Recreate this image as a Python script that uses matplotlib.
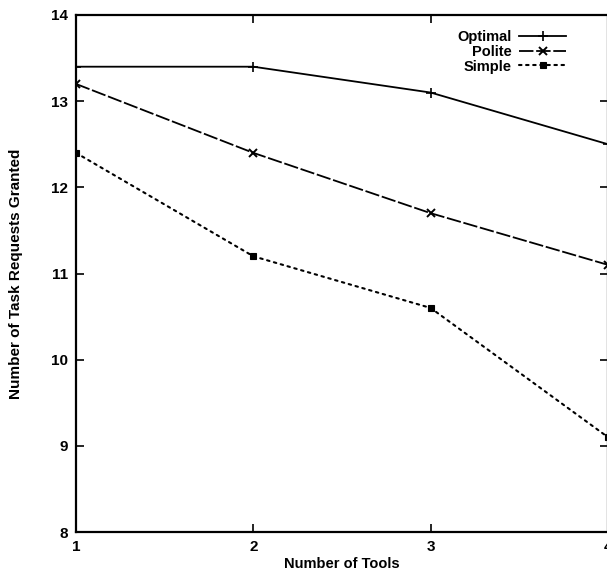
import matplotlib
matplotlib.use("Agg")
import matplotlib.pyplot as plt

# values
tools = [1, 2, 3, 4]
optimal = [13.4, 13.4, 13.1, 12.5]
polite = [13.2, 12.4, 11.7, 11.1]
simple = [12.4, 11.2, 10.6, 9.1]
y_ticks = [8, 9, 10, 11, 12, 13, 14]

plt.rcParams["font.family"] = ["Liberation Sans", "DejaVu Sans"]
plt.rcParams["font.weight"] = "bold"

fig = plt.figure(figsize=(6.07, 5.75), dpi=100)
ax = fig.add_axes([76 / 607, 43 / 575, 532 / 607, 517 / 575])

ax.plot(tools, optimal, color="black", lw=1.3, ls="-", marker="+", ms=7, mew=1.2,
        label="Optimal")
ax.plot(tools, polite, color="black", lw=1.3, ls=(0, (8, 1.5)), marker="x", ms=6,
        mew=1.4, label="Polite")
ax.plot(tools, simple, color="black", lw=1.5, ls=(0, (1.2, 2.2)), marker="s", ms=5,
        mew=0.8, label="Simple", dash_capstyle="round")

ax.set_xlim(1, 4)
ax.set_ylim(8, 14)
ax.set_xticks(tools)
ax.set_yticks(y_ticks)
ax.tick_params(direction="in", top=True, right=True, length=6, width=1.2,
               labelsize=11, pad=6)
for lab in ax.get_xticklabels() + ax.get_yticklabels():
    lab.set_fontweight("bold")
for sp in ax.spines.values():
    sp.set_linewidth(1.6)

ax.set_xlabel("Number of Tools", fontsize=10.5, fontweight="bold", labelpad=2)
ax.set_ylabel("Number of Task Requests Granted", fontsize=11, fontweight="bold",
              labelpad=20)

ax.legend(loc="upper right", bbox_to_anchor=(0.935, 0.985), frameon=False,
          markerfirst=False, handlelength=3.2, handletextpad=0.55,
          labelspacing=0.05, borderpad=0, numpoints=1,
          prop={"size": 10.5, "weight": "bold"})

fig.savefig("out.png", dpi=100)
